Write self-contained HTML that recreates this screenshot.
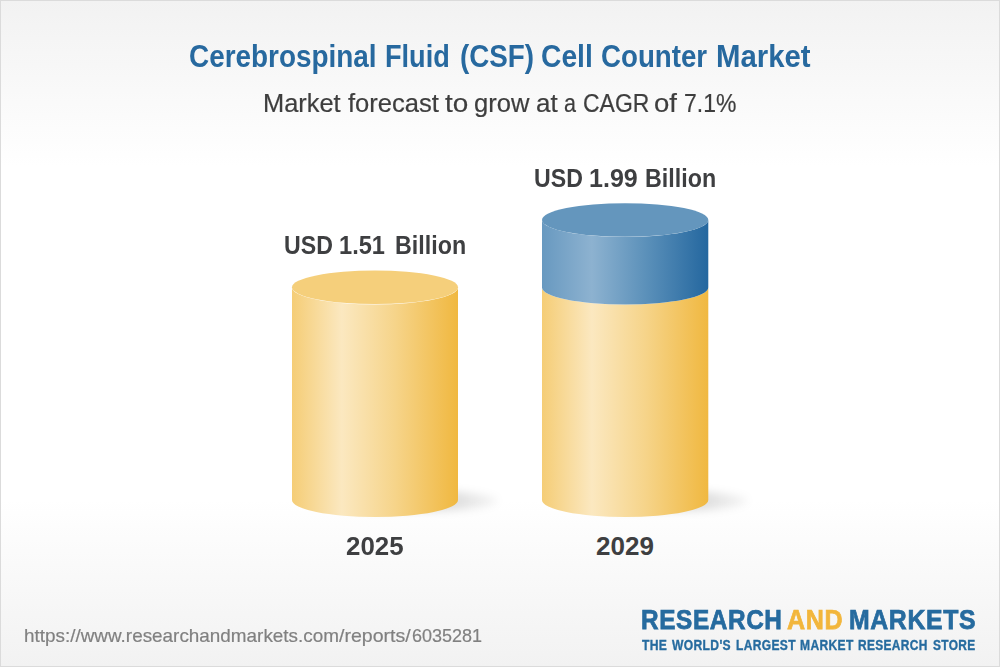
<!DOCTYPE html>
<html lang="en">
<head>
<meta charset="utf-8">
<title>Cerebrospinal Fluid (CSF) Cell Counter Market</title>
<style>
  html, body { margin: 0; padding: 0; }
  body {
    width: 1000px; height: 667px; overflow: hidden; position: relative;
    font-family: "Liberation Sans", sans-serif;
    background: #ffffff;
  }
  #frame {
    position: absolute; left: 0; top: 0; width: 998px; height: 665px;
    border: 1px solid #dbdbdb;
    background: linear-gradient(to bottom, #f2f2f2 0px, #ffffff 166px, #ffffff 499px, #f2f2f2 665px);
  }
  .t { position: absolute; white-space: nowrap; line-height: 1; transform-origin: 0 0; }
  .ti { font-size:31px; font-weight:bold; top:41.0px; color:#27699f;  }
  .su { font-size:25px; font-weight:normal; top:90.64px; color:#3e3e3e; -webkit-text-stroke:0.2px #3e3e3e; }
  .va { font-size:25.75px; font-weight:bold; top:232.8px; color:#3e3f41;  }
  .vb { font-size:25.75px; font-weight:bold; top:166.0px; color:#3e3f41;  }
  .ya { font-size:26px; font-weight:bold; top:533.09px; color:#3e3f41;  }
  .yb { font-size:26px; font-weight:bold; top:533.09px; color:#3e3f41;  }
  .ur { font-size:19px; font-weight:normal; top:625.9px; color:#808080; -webkit-text-stroke:0.2px #808080; }
  .la { font-size:28px; font-weight:bold; top:606.0px; color:#266b9f; -webkit-text-stroke:0.75px #266b9f;letter-spacing:0.7px; }
  .lb { font-size:28px; font-weight:bold; top:606.0px; color:#f2b63c; -webkit-text-stroke:0.75px #f2b63c;letter-spacing:0.7px; }
  .lc { font-size:14px; font-weight:bold; top:638.2px; color:#266b9f; -webkit-text-stroke:0.35px #266b9f;letter-spacing:0.4px; }
  svg { position: absolute; left: 0; top: 0; }
</style>
</head>
<body>
<div id="frame"></div>

<svg width="1000" height="667" viewBox="0 0 1000 667">
  <defs>
    <linearGradient id="gy" x1="0" y1="0" x2="1" y2="0">
      <stop offset="0" stop-color="#f5cd76"/>
      <stop offset="0.30" stop-color="#fbe8c0"/>
      <stop offset="0.62" stop-color="#f6d48a"/>
      <stop offset="1" stop-color="#f0b840"/>
    </linearGradient>
    <linearGradient id="gb" x1="0" y1="0" x2="1" y2="0">
      <stop offset="0" stop-color="#6899c0"/>
      <stop offset="0.30" stop-color="#8db2d0"/>
      <stop offset="0.62" stop-color="#5c91ba"/>
      <stop offset="1" stop-color="#24679f"/>
    </linearGradient>
    <linearGradient id="sh1" gradientUnits="userSpaceOnUse" x1="450" y1="0" x2="500" y2="0">
      <stop offset="0" stop-color="#000" stop-opacity="0.135"/>
      <stop offset="1" stop-color="#000" stop-opacity="0.035"/>
    </linearGradient>
    <linearGradient id="sh2" gradientUnits="userSpaceOnUse" x1="700" y1="0" x2="750" y2="0">
      <stop offset="0" stop-color="#000" stop-opacity="0.135"/>
      <stop offset="1" stop-color="#000" stop-opacity="0.035"/>
    </linearGradient>
    <filter id="blur" x="-30%" y="-80%" width="160%" height="260%">
      <feGaussianBlur stdDeviation="4"/>
    </filter>
  </defs>

  <!-- shadows -->
  <ellipse cx="412" cy="500.8" rx="86" ry="10.5" fill="url(#sh1)" filter="url(#blur)"/>
  <ellipse cx="662" cy="500.8" rx="86" ry="10.5" fill="url(#sh2)" filter="url(#blur)"/>

  <!-- left cylinder -->
  <path d="M292 287.5 A83 17 0 0 0 458 287.5 L458 500 A83 17 0 0 1 292 500 Z" fill="url(#gy)"/>
  <ellipse cx="375" cy="287.3" rx="83" ry="16.8" fill="#f5cf7b"/>

  <!-- right cylinder -->
  <path d="M542 287.5 A83 17 0 0 0 708.3 287.5 L708.3 500 A83.15 17 0 0 1 542 500 Z" fill="url(#gy)"/>
  <path d="M542 220 A83 17 0 0 0 708.3 220 L708.3 287.5 A83.15 17 0 0 1 542 287.5 Z" fill="url(#gb)"/>
  <ellipse cx="625.15" cy="220" rx="83.15" ry="16.8" fill="#6496bd"/>
</svg>

<div class="t ti" style="left:189.38px;transform:scaleX(0.9000)">Cerebrospinal</div>
<div class="t ti" style="left:384.50px;transform:scaleX(0.8750)">Fluid</div>
<div class="t ti" style="left:459.91px;transform:scaleX(0.8962)">(CSF)</div>
<div class="t ti" style="left:541.36px;transform:scaleX(0.9112)">Cell</div>
<div class="t ti" style="left:601.38px;transform:scaleX(0.8932)">Counter</div>
<div class="t ti" style="left:715.61px;transform:scaleX(0.9467)">Market</div>
<div class="t su" style="left:262.97px;transform:scaleX(1.0168)">Market</div>
<div class="t su" style="left:347.74px;transform:scaleX(1.0225)">forecast</div>
<div class="t su" style="left:444.72px;transform:scaleX(1.1139)">to</div>
<div class="t su" style="left:474.48px;transform:scaleX(1.0235)">grow</div>
<div class="t su" style="left:535.96px;transform:scaleX(1.0380)">at</div>
<div class="t su" style="left:564.14px;transform:scaleX(0.8615)">a</div>
<div class="t su" style="left:582.60px;transform:scaleX(0.9179)">CAGR</div>
<div class="t su" style="left:653.90px;transform:scaleX(1.1000)">of</div>
<div class="t su" style="left:683.85px;transform:scaleX(0.9182)">7.1%</div>
<div class="t va" style="left:284.15px;transform:scaleX(0.8986)">USD</div>
<div class="t va" style="left:338.62px;transform:scaleX(0.9167)">1.51</div>
<div class="t va" style="left:394.92px;transform:scaleX(0.9037)">Billion</div>
<div class="t vb" style="left:534.15px;transform:scaleX(0.8986)">USD</div>
<div class="t vb" style="left:588.54px;transform:scaleX(0.9738)">1.99</div>
<div class="t vb" style="left:644.92px;transform:scaleX(0.9037)">Billion</div>
<div class="t ya" style="left:346.00px;transform:scaleX(0.9956)">2025</div>
<div class="t yb" style="left:596.00px;transform:scaleX(1.0000)">2029</div>
<div class="t ur" style="left:24.26px;transform:scaleX(0.9943)">https://www.researchandmarkets.com</div>
<div class="t ur" style="left:339.20px;transform:scaleX(1.0294)">/reports/</div>
<div class="t ur" style="left:411.69px;transform:scaleX(0.9462)">6035281</div>
<div class="t la" style="left:640.50px;transform:scaleX(0.8698)">RESEARCH</div>
<div class="t la" style="left:848.97px;transform:scaleX(0.8868)">MARKETS</div>
<div class="t lb" style="left:786.58px;transform:scaleX(0.8951)">AND</div>
<div class="t lc" style="left:641.90px;transform:scaleX(0.8667)">THE</div>
<div class="t lc" style="left:672.22px;transform:scaleX(0.8635)">WORLD'S</div>
<div class="t lc" style="left:735.76px;transform:scaleX(0.8599)">LARGEST</div>
<div class="t lc" style="left:799.75px;transform:scaleX(0.8604)">MARKET</div>
<div class="t lc" style="left:858.36px;transform:scaleX(0.8514)">RESEARCH</div>
<div class="t lc" style="left:932.99px;transform:scaleX(0.8510)">STORE</div>
</body>
</html>
